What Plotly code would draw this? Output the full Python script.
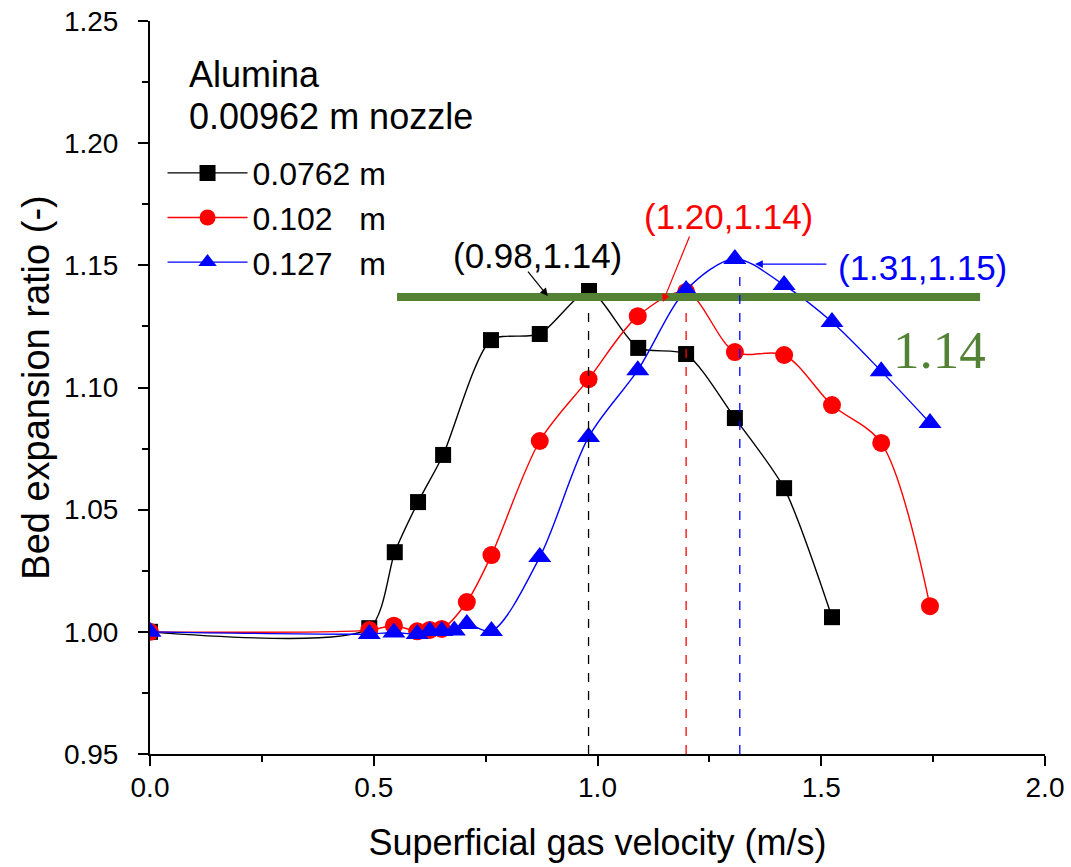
import plotly.graph_objects as go

# ---------------- data ----------------
x_black = [0.0, 0.49, 0.547, 0.599, 0.655, 0.762, 0.871, 0.981, 1.091, 1.198, 1.307, 1.417, 1.524]
y_black = [1.000, 1.0015, 1.0326, 1.0531, 1.0724, 1.1194, 1.1219, 1.1395, 1.1162, 1.1137, 1.0875, 1.0588, 1.006]

x_red = [0.0, 0.49, 0.545, 0.597, 0.625, 0.652, 0.708, 0.763, 0.871, 0.98, 1.09, 1.198, 1.307, 1.417, 1.524, 1.634, 1.743]
y_red = [1.000, 1.0007, 1.0025, 1.0002, 1.0008, 1.0012, 1.0122, 1.0314, 1.0781, 1.1034, 1.1292, 1.1391, 1.1145, 1.1133, 1.0928, 1.0773, 1.0105]

x_blue = [0.0, 0.49, 0.545, 0.597, 0.625, 0.652, 0.68, 0.708, 0.763, 0.871, 0.98, 1.09, 1.198, 1.307, 1.417, 1.524, 1.634, 1.743]
y_blue = [1.000, 0.9991, 0.9997, 0.9991, 1.0003, 1.0003, 1.0005, 1.0032, 1.0003, 1.0306, 1.0797, 1.1071, 1.1399, 1.1526, 1.1419, 1.1268, 1.1067, 1.0855]

series_names = ["0.0762 m", "0.102   m", "0.127   m"]
series_colors = ["#000000", "#FF0000", "#0000FF"]
series_symbols = ["square", "circle", "triangle-up"]
series_sizes = [16, 18, 20]
series_smoothing = [0.7, 0.9, 0.9]

peak_x = [0.98, 1.198, 1.318]
peak_y = [1.132, 1.134, 1.147]
peak_labels = ["(0.98,1.14)", "(1.20,1.14)", "(1.31,1.15)"]

ref_level = 1.137
ref_x = [0.552, 1.855]
ref_label = "1.14"

header_lines = ["Alumina", "0.00962 m nozzle"]

x_ticks = [0.0, 0.5, 1.0, 1.5, 2.0]
y_ticks = [0.95, 1.00, 1.05, 1.10, 1.15, 1.20, 1.25]

# ---------------- figure ----------------
W, H = 1071, 867
ml, mr, mt, mb = 150, 26, 21, 113
pw, ph = W - ml - mr, H - mt - mb
font = "Liberation Sans, Arial, sans-serif"

fig = go.Figure()
for xs, ys, name, col, sym, sz, sm in zip([x_black, x_red, x_blue], [y_black, y_red, y_blue],
                                          series_names, series_colors, series_symbols, series_sizes,
                                          series_smoothing):
    fig.add_trace(go.Scatter(
        x=xs, y=ys, name=name, mode="lines+markers",
        line=dict(color=col, width=1.4, shape="spline", smoothing=sm),
        marker=dict(symbol=sym, size=sz, color=col, line=dict(width=0)),
    ))

# green reference line
fig.add_trace(go.Scatter(x=ref_x, y=[ref_level, ref_level], mode="lines",
                         line=dict(color="#548235", width=8), showlegend=False, hoverinfo="skip"))

shapes = []
for px, py, col in zip(peak_x, peak_y, series_colors):
    shapes.append(dict(type="line", xref="x", yref="y", x0=px, x1=px, y0=0.95, y1=py,
                       line=dict(color=col, width=1.3, dash="dash")))

ann = []
for txt, px, py in zip(header_lines, [187, 187], [75, 116]):
    ann.append(dict(text=txt, x=(px - ml) / pw, y=1 - (py - mt) / ph, xref="paper", yref="paper",
                    xanchor="left", yanchor="middle", showarrow=False,
                    font=dict(family=font, size=36, color="black")))

label_pos = [(0.866, 1.1542), (1.293, 1.1698), (1.727, 1.149)]
arrow_tail = [(0.842, 1.148), (1.207, 1.1624), (1.515, 1.1505)]
arrow_tip = [(0.889, 1.1374), (1.146, 1.135), (1.352, 1.1505)]
for lab, (lx, ly), (tx, ty), (hx, hy), col in zip(peak_labels, label_pos, arrow_tail, arrow_tip, series_colors):
    ann.append(dict(text=lab, x=lx, y=ly, xref="x", yref="y", showarrow=False,
                    font=dict(family=font, size=35, color=col)))
    ann.append(dict(text="", x=hx, y=hy, ax=tx, ay=ty, xref="x", yref="y", axref="x", ayref="y",
                    showarrow=True, arrowhead=2, arrowsize=1.3, arrowwidth=1.2, arrowcolor=col))
ann.append(dict(text=ref_label, x=1.764, y=1.1153, xref="x", yref="y", showarrow=False,
                font=dict(family="Liberation Serif, Times New Roman, serif", size=53, color="#548235")))

fig.update_layout(
    width=W, height=H,
    margin=dict(l=ml, r=mr, t=mt, b=mb, autoexpand=False),
    paper_bgcolor="white", plot_bgcolor="white",
    font=dict(family=font, size=26, color="black"),
    shapes=shapes, annotations=ann,
    legend=dict(x=0.014, y=0.830, xanchor="left", yanchor="top", bgcolor="rgba(0,0,0,0)",
                font=dict(family=font, size=32, color="black"), itemwidth=80, tracegroupgap=0,
                traceorder="normal"),
    xaxis=dict(range=[0, 2.0], tickvals=x_ticks, ticktext=["%.1f" % v for v in x_ticks],
               showgrid=False, zeroline=False, showline=True, linecolor="black", linewidth=2,
               ticks="outside", ticklen=10, tickwidth=2, tickcolor="black", automargin=False,
               minor=dict(dtick=0.25, ticks="outside", ticklen=6, tickwidth=2, tickcolor="black"),
               tickfont=dict(size=28), ticklabelstandoff=-3,
               title=dict(text="Superficial gas velocity (m/s)", font=dict(size=36), standoff=28)),
    yaxis=dict(range=[0.95, 1.25], tickvals=y_ticks, ticktext=["%.2f" % v for v in y_ticks],
               showgrid=False, zeroline=False, showline=True, linecolor="black", linewidth=2,
               ticks="outside", ticklen=10, tickwidth=2, tickcolor="black", automargin=False,
               minor=dict(dtick=0.025, ticks="outside", ticklen=6, tickwidth=2, tickcolor="black"),
               tickfont=dict(size=28), ticklabelstandoff=14,
               title=dict(text="Bed expansion ratio (-)", font=dict(size=38), standoff=3)),
)

fig.write_html("out.html", config={"displayModeBar": False},
               post_script="document.body.style.margin='0px';document.body.style.overflow='hidden';")
